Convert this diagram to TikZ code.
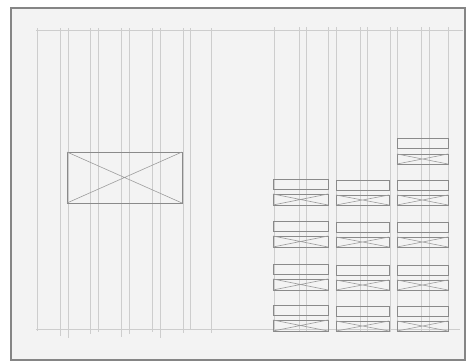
\documentclass[tikz,border=0pt]{standalone}
\usetikzlibrary{calc}
\definecolor{paper}{HTML}{F3F3F3}
\definecolor{frame}{HTML}{858585}
\definecolor{guide}{HTML}{CDCDCD}
\definecolor{pencil}{HTML}{8A8A8A}
\tikzset{
  guideline/.style={draw=guide,line width=0.5pt},
  boxline/.style={draw=pencil,line width=0.9pt},
  crossline/.style={draw=pencil!85,line width=0.6pt}
}
\newcommand\plainbox[4]{\draw[boxline] ({#1},{-(#2)}) rectangle ({#3},{-(#4)});}
\newcommand\crossbox[4]{\draw[boxline] ({#1},{-(#2)}) rectangle ({#3},{-(#4)});
  \draw[crossline] ({#1},{-(#2)}) -- ({#3},{-(#4)}) ({#1},{-(#4)}) -- ({#3},{-(#2)});}
\begin{document}
\begin{tikzpicture}[x=1pt,y=1pt]
\useasboundingbox (0,0) rectangle (467,-362);
\fill[white] (0,0) rectangle (467,-362);
\fill[paper] (11,-8) rectangle (465,-360);
% guide lines
\draw[guideline] (36,-30) -- (463,-30);
\draw[guideline] (36,-329) -- (460,-329);
\foreach \x/\b in {37.3/331,60.3/336,68/338,90.7/334,98.3/332,121.3/337,129.3/334,152.3/332,160.3/338,183/333,190.7/329,211.3/333}
  \draw[guideline] (\x,-28) -- (\x,-\b);
\foreach \x in {274,299.3,306.7,328.7,336.7,360,367.3,390.7,397.7,421.3,429.3,448.7}
  \draw[guideline] (\x,-27) -- (\x,-332);
% large crossed box
\crossbox{67}{152}{182}{203}
% column 3 top pair
\plainbox{397}{138}{448}{148}
\crossbox{397}{154}{448}{164}
% rows
\foreach \y in {179,221,264,305}{
  \plainbox{273}{\y}{328}{\y+10}
  \crossbox{273}{\y+15}{328}{\y+26}
  \plainbox{336}{\y+1}{389}{\y+11}
  \crossbox{336}{\y+16}{389}{\y+26}
  \plainbox{397}{\y+1}{448}{\y+11}
  \crossbox{397}{\y+16}{448}{\y+26}
}
% frame
\draw[frame,line width=2.8pt] (11,-8) rectangle (465,-360);
\end{tikzpicture}
\end{document}
